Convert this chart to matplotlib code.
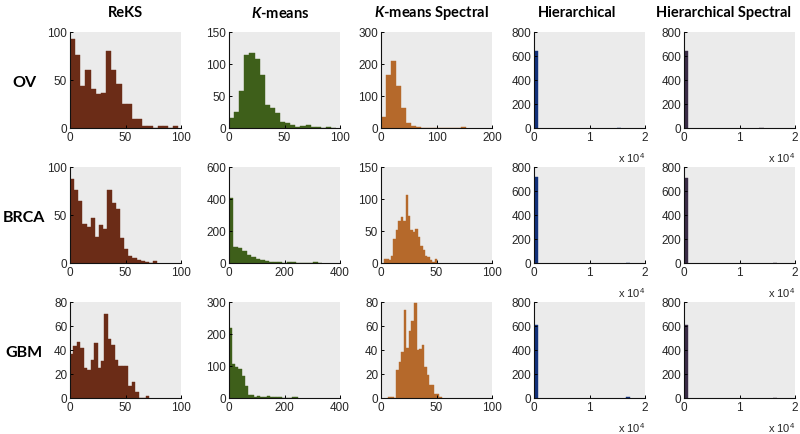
import matplotlib
matplotlib.use('Agg')
import matplotlib.pyplot as plt
import numpy as np

plt.rcParams['font.family'] = ['Liberation Sans', 'DejaVu Sans']
plt.rcParams['mathtext.fontset'] = 'custom'
plt.rcParams['mathtext.rm'] = 'Liberation Sans'
plt.rcParams['mathtext.it'] = 'Lato:italic'
plt.rcParams['mathtext.bf'] = 'Lato:bold'
plt.rcParams['mathtext.bfit'] = 'Lato:italic:bold'

# ---------------- data ----------------
methods = ['ReKS', r'$\mathbfit{K}$-means', r'$\mathbfit{K}$-means Spectral',
           'Hierarchical', 'Hierarchical Spectral']
datasets = ['OV', 'BRCA', 'GBM']

# histogram counts (bin start, bin width given alongside)
reks_ov = [93, 76, 44, 60, 41, 35, 36, 80, 60, 46, 25, 25, 9, 9, 2, 2, 0, 2, 2, 0, 2]
reks_brca = [88, 76, 65, 41, 38, 47, 27, 40, 35, 76, 62, 56, 26, 15, 7, 5, 3, 2, 1, 0, 2]
reks_gbm = [37, 43, 47, 42, 25, 23, 32, 46, 25, 31, 70, 49, 44, 32, 27, 27, 27, 10, 13, 5, 0, 0, 2]

kmeans_ov = [16, 25, 58, 114, 117, 108, 83, 36, 31, 23, 10, 8, 5, 2, 3, 4, 1, 1, 0, 2, 0]
kmeans_brca = [406, 102, 96, 72, 48, 36, 28, 18, 10, 6, 4, 5, 3, 6, 4, 1, 0, 1, 0, 4, 2]
kmeans_gbm = [218, 105, 96, 90, 69, 38, 10, 8, 2, 5, 2, 4, 5, 3, 3, 3, 2, 0, 0, 0, 4, 4]

kspec_ov = [35, 166, 210, 132, 64, 17, 7, 2, 1, 0, 0, 0, 0, 0, 0, 0, 2]
kspec_brca = [6, 6, 4, 11, 37, 51, 66, 72, 66, 107, 74, 51, 48, 53, 40, 27, 21, 11, 9, 4, 2, 7]
kspec_gbm = [1, 1, 0, 23, 30, 38, 73, 42, 56, 64, 79, 40, 41, 44, 26, 19, 11, 11, 3, 3, 1]

# hierarchical: only non-empty bins (bin index, count)
hier_ov_bins, hier_ov = [0, 20], [641, 4]
hier_brca_bins, hier_brca = [0, 22], [716, 4]
hier_gbm_bins, hier_gbm = [0, 22], [605, 6]
hspec_ov_bins, hspec_ov = [0, 17], [640, 3]
hspec_brca_bins, hspec_brca = [0, 20], [710, 3]
hspec_gbm_bins, hspec_gbm = [0, 20], [605, 4]

# bin start / width per panel
bins_info = {
    ('ReKS', 'OV'): (0, 4.65), ('ReKS', 'BRCA'): (0, 3.75), ('ReKS', 'GBM'): (0, 3.1),
    ('KM', 'OV'): (0, 4.6), ('KM', 'BRCA'): (0, 16), ('KM', 'GBM'): (0, 11.3),
    ('KS', 'OV'): (0, 9), ('KS', 'BRCA'): (2.4, 2.19), ('KS', 'GBM'): (6.7, 2.3),
    ('H', 'OV'): (0, 750), ('H', 'BRCA'): (0, 750), ('H', 'GBM'): (0, 750),
    ('HS', 'OV'): (0, 800), ('HS', 'BRCA'): (0, 800), ('HS', 'GBM'): (0, 800),
}

panels = {
    ('ReKS', 'OV'): (reks_ov, None), ('ReKS', 'BRCA'): (reks_brca, None), ('ReKS', 'GBM'): (reks_gbm, None),
    ('KM', 'OV'): (kmeans_ov, None), ('KM', 'BRCA'): (kmeans_brca, None), ('KM', 'GBM'): (kmeans_gbm, None),
    ('KS', 'OV'): (kspec_ov, None), ('KS', 'BRCA'): (kspec_brca, None), ('KS', 'GBM'): (kspec_gbm, None),
    ('H', 'OV'): (hier_ov, hier_ov_bins), ('H', 'BRCA'): (hier_brca, hier_brca_bins), ('H', 'GBM'): (hier_gbm, hier_gbm_bins),
    ('HS', 'OV'): (hspec_ov, hspec_ov_bins), ('HS', 'BRCA'): (hspec_brca, hspec_brca_bins), ('HS', 'GBM'): (hspec_gbm, hspec_gbm_bins),
}

# axis limits / ticks
axes_cfg = {
    ('ReKS', 'OV'): ((0, 100), [0, 50, 100], (0, 100), [0, 50, 100]),
    ('ReKS', 'BRCA'): ((0, 100), [0, 50, 100], (0, 100), [0, 50, 100]),
    ('ReKS', 'GBM'): ((0, 100), [0, 50, 100], (0, 80), [0, 20, 40, 60, 80]),
    ('KM', 'OV'): ((0, 100), [0, 50, 100], (0, 150), [0, 50, 100, 150]),
    ('KM', 'BRCA'): ((0, 400), [0, 200, 400], (0, 600), [0, 200, 400, 600]),
    ('KM', 'GBM'): ((0, 400), [0, 200, 400], (0, 300), [0, 100, 200, 300]),
    ('KS', 'OV'): ((0, 200), [0, 100, 200], (0, 300), [0, 100, 200, 300]),
    ('KS', 'BRCA'): ((0, 100), [0, 50, 100], (0, 150), [0, 50, 100, 150]),
    ('KS', 'GBM'): ((0, 100), [0, 50, 100], (0, 80), [0, 20, 40, 60, 80]),
}
for m in ['H', 'HS']:
    for d in datasets:
        axes_cfg[(m, d)] = ((0, 20000), [0, 10000, 20000], (0, 800), [0, 200, 400, 600, 800])

method_keys = ['ReKS', 'KM', 'KS', 'H', 'HS']
colors = {'ReKS': '#6b2c17', 'KM': '#3e5f1a', 'KS': '#b5692b', 'H': '#12307a', 'HS': '#3a2c46'}

# ---------------- layout ----------------
W, H = 800, 435
fig = plt.figure(figsize=(8, 4.35), dpi=100)
col_left = [70, 229, 381, 534, 684]
title_x = [125.5, 280, 431, 577, 723]
row_top = [33, 168, 303]
aw, ah = 111, 96

for ci, mk in enumerate(method_keys):
    for ri, ds in enumerate(datasets):
        l = col_left[ci] / W
        b = 1 - (row_top[ri] + ah) / H
        ax = fig.add_axes([l, b, aw / W, ah / H])
        ax.set_facecolor('#ebebeb')
        counts, idx = panels[(mk, ds)]
        start, width = bins_info[(mk, ds)]
        if idx is None:
            idx = np.arange(len(counts))
        edges = start + width * np.asarray(idx)
        ax.bar(edges, counts, width=width, align='edge', color=colors[mk],
               edgecolor=colors[mk], linewidth=0.3)
        xl, xt, yl, yt = axes_cfg[(mk, ds)]
        ax.set_xlim(xl)
        ax.set_ylim(yl)
        ax.set_xticks(xt)
        ax.set_yticks(yt)
        if mk in ('H', 'HS'):
            ax.set_xticklabels([str(int(t / 10000)) for t in xt])
            ax.text(1.0, -0.30, r'x 10$^{4}$', transform=ax.transAxes, ha='right',
                    va='center', fontsize=8, color='#262626')
        for s in ['top', 'right']:
            ax.spines[s].set_visible(False)
        for s in ['left', 'bottom']:
            ax.spines[s].set_linewidth(0.8)
            ax.spines[s].set_color('#111111')
        ax.tick_params(direction='in', length=2.5, width=0.7, labelsize=8.5,
                       labelcolor='#262626', pad=2)

# column titles
for ci, name in enumerate(methods):
    fig.text(title_x[ci] / W, 1 - 13 / H, name, ha='center', va='center', fontsize=10.5,
             fontweight='bold', family=['Lato', 'DejaVu Sans'])

# row labels
for ri, name in enumerate(datasets):
    yc = 1 - (row_top[ri] + ah / 2 + 2) / H
    fig.text(24 / W, yc, name, ha='center', va='center', fontsize=11.5,
             fontweight='bold', family=['Lato', 'DejaVu Sans'])

fig.savefig('out.png', dpi=100)
